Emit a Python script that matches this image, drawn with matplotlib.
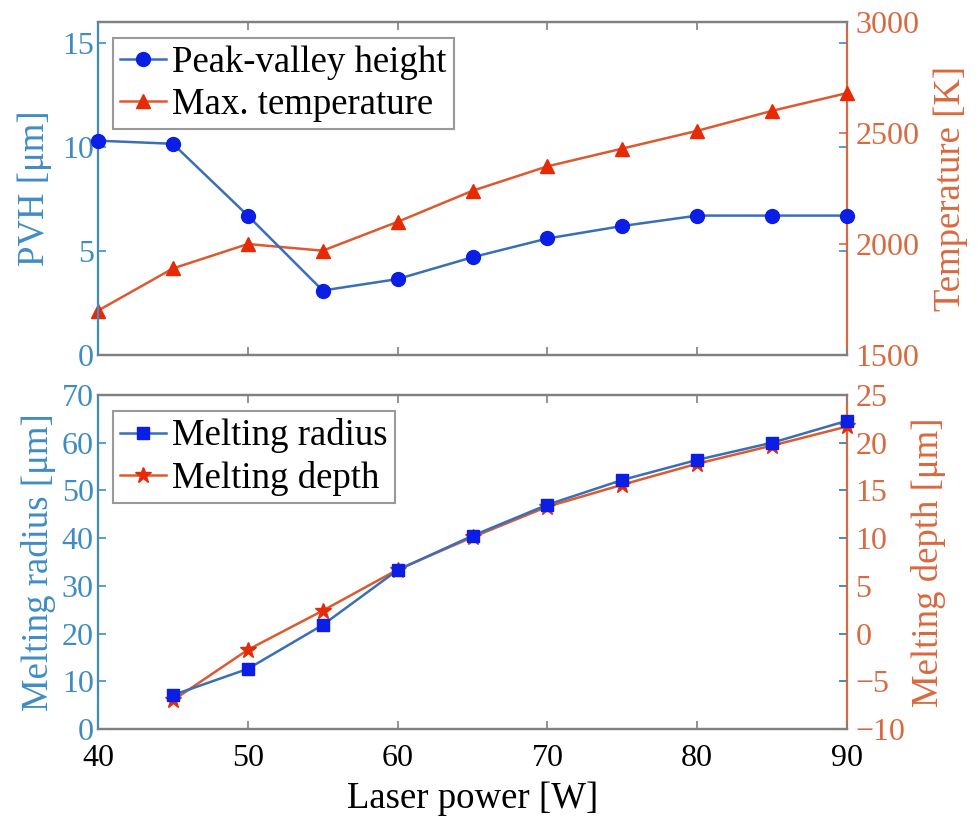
import matplotlib
matplotlib.use("Agg")
import matplotlib.pyplot as plt
from matplotlib.ticker import MultipleLocator

plt.rcParams['font.family'] = ['Liberation Serif', 'DejaVu Serif']
plt.rcParams['mathtext.fontset'] = 'stix'

# Data
laser_power = [40, 45, 50, 55, 60, 65, 70, 75, 80, 85, 90]
pvh = [10.3, 10.15, 6.7, 3.1, 3.65, 4.7, 5.6, 6.2, 6.7, 6.7, 6.7]
max_temp = [1700, 1890, 2000, 1970, 2100, 2240, 2350, 2430, 2510, 2600, 2680]

power_melt = [45, 50, 55, 60, 65, 70, 75, 80, 85, 90]
melt_radius = [7.1, 12.6, 21.8, 33.3, 40.5, 47.0, 52.2, 56.4, 60.0, 64.6]
melt_depth = [-7.0, -1.7, 2.4, 6.7, 10.1, 13.3, 15.6, 17.8, 19.7, 21.7]

x_ticks = [40, 50, 60, 70, 80, 90]

LEFT_C = '#3f8cc4'
RIGHT_C = '#d9693f'
BLUE_LINE = '#3a6fb5'
BLUE_MK = '#0a1ee6'
RED_LINE = '#dd5a30'
RED_MK = '#e62a05'
FRAME = '#808080'
FS = 23
LEG_FS = 26.5
LAB_FS = 26.5

fig = plt.figure(figsize=(9.79, 8.19), dpi=100)
ax1 = fig.add_axes([0.1001, 0.5665, 0.7651, 0.4066])
ax3 = fig.add_axes([0.1001, 0.1099, 0.7651, 0.4078])


def style_pair(ax, axr):
    for a in (ax, axr):
        a.set_xlim(40, 90)
        a.xaxis.set_major_locator(MultipleLocator(10))
        for s in ('top', 'bottom'):
            a.spines[s].set_color(FRAME)
            a.spines[s].set_linewidth(1.6)
    ax.spines['left'].set_color(LEFT_C)
    ax.spines['left'].set_linewidth(1.6)
    ax.spines['right'].set_visible(False)
    axr.spines['left'].set_visible(False)
    axr.spines['right'].set_color(RIGHT_C)
    axr.spines['right'].set_linewidth(1.6)
    ax.tick_params(axis='x', direction='in', top=True, bottom=True,
                   length=6, width=1.2, color=FRAME, labelsize=FS, pad=11)
    ax.tick_params(axis='y', direction='in', left=True, right=True,
                   length=6, width=1.2, color=LEFT_C, labelcolor=LEFT_C,
                   labelsize=FS, labelright=False, pad=3)
    axr.tick_params(axis='y', direction='in', left=False, right=True,
                    length=6, width=1.2, color=RIGHT_C, labelcolor=RIGHT_C,
                    labelsize=FS, pad=6)
    axr.tick_params(axis='x', top=False, bottom=False, labelbottom=False)


def add_legend(ax, handles):
    leg = ax.legend(handles=handles, loc='upper left', fontsize=LEG_FS,
                    frameon=True, fancybox=False, edgecolor=FRAME,
                    borderpad=0.2, handlelength=1.25, handletextpad=0.15,
                    labelspacing=0.2, borderaxespad=0.3,
                    bbox_to_anchor=(0.005, 0.985))
    leg.get_frame().set_linewidth(1.5)
    return leg


# Top panel: peak-valley height and max temperature
ax2 = ax1.twinx()
style_pair(ax1, ax2)
l1, = ax1.plot(laser_power, pvh, '-o', color=BLUE_LINE, lw=1.8,
               mfc=BLUE_MK, mec=BLUE_MK, ms=10, label='Peak-valley height',
               clip_on=False, zorder=5)
l2, = ax2.plot(laser_power, max_temp, '-^', color=RED_LINE, lw=1.8,
               mfc=RED_MK, mec=RED_MK, ms=10, label='Max. temperature',
               clip_on=False, zorder=5)
ax1.set_ylim(0, 16)
ax1.set_yticks([0, 5, 10, 15])
ax2.set_ylim(1500, 3000)
ax2.set_yticks([1500, 2000, 2500, 3000])
ax1.set_xticks(x_ticks)
ax1.tick_params(axis='x', labelbottom=False)
ax1.set_ylabel('PVH [μm]', color=LEFT_C, fontsize=LAB_FS, labelpad=7)
ax2.set_ylabel('Temperature [K]', color=RIGHT_C, fontsize=LAB_FS, labelpad=10)
add_legend(ax1, [l1, l2])
ax2.set_zorder(ax1.get_zorder() - 1)
ax1.patch.set_visible(False)
ax2.patch.set_visible(True)
ax2.patch.set_facecolor('white')

# Bottom panel: melting radius and melting depth
ax4 = ax3.twinx()
style_pair(ax3, ax4)
l3, = ax3.plot(power_melt, melt_radius, '-s', color=BLUE_LINE, lw=1.8,
               mfc=BLUE_MK, mec=BLUE_MK, ms=9, label='Melting radius',
               clip_on=False, zorder=5)
l4, = ax4.plot(power_melt, melt_depth, '-*', color=RED_LINE, lw=1.8,
               mfc=RED_MK, mec=RED_MK, ms=12, label='Melting depth',
               clip_on=False, zorder=5)
ax3.set_ylim(0, 70)
ax3.set_yticks(range(0, 71, 10))
ax4.set_ylim(-10, 25)
ax4.set_yticks(range(-10, 26, 5))
ax3.set_xticks(x_ticks)
ax3.set_ylabel('Melting radius [μm]', color=LEFT_C, fontsize=LAB_FS, labelpad=4)
ax4.set_ylabel('Melting depth [μm]', color=RIGHT_C, fontsize=LAB_FS, labelpad=4)
ax3.set_xlabel('Laser power [W]', fontsize=LAB_FS, labelpad=6)
add_legend(ax3, [l3, l4])
ax4.set_zorder(ax3.get_zorder() - 1)
ax3.patch.set_visible(False)
ax4.patch.set_visible(True)
ax4.patch.set_facecolor('white')

fig.savefig('out.png', dpi=100)
